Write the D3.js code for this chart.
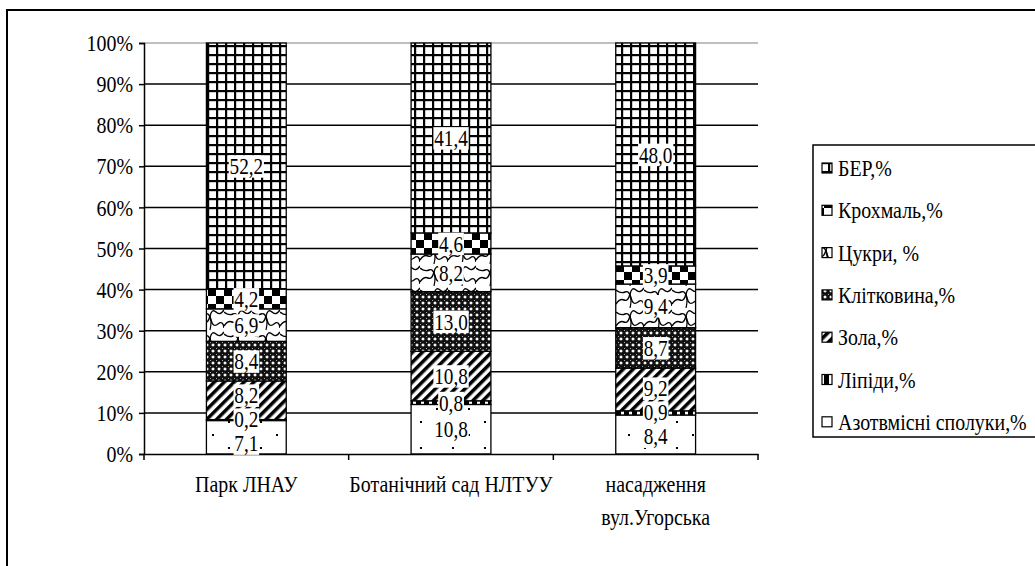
<!DOCTYPE html>
<html><head><meta charset="utf-8">
<script src="https://cdn.jsdelivr.net/npm/d3@7"></script>
<style>
html,body{margin:0;padding:0;background:#fff;}
svg text{font-family:'Liberation Serif','Tinos','Times New Roman','DejaVu Serif',serif !important;fill:#000;}
</style></head>
<body><svg id="chart" width="1035" height="566"></svg>
<script>
// ---- data ----
const categories = ["Парк ЛНАУ", "Ботанічний сад НЛТУУ", "насадження вул.Угорська"];
const categoryLabelLines = [["Парк ЛНАУ"], ["Ботанічний сад НЛТУУ"], ["насадження", "вул.Угорська"]];
const seriesNames = ["Азотвмісні сполуки,%", "Ліпіди,%", "Зола,%", "Клітковина,%", "Цукри, %", "Крохмаль,%", "БЕР,%"];
const azot = [7.1, 10.8, 8.4];
const lipidy = [0.2, 0.8, 0.9];
const zola = [8.2, 10.8, 9.2];
const klitkovyna = [8.4, 13.0, 8.7];
const tsukry = [6.9, 8.2, 9.4];
const krokhmal = [4.2, 4.6, 3.9];
const ber = [52.2, 41.4, 48.0];
const yTicks = [0, 0.1, 0.2, 0.3, 0.4, 0.5, 0.6, 0.7, 0.8, 0.9, 1.0];

const seriesValues = [azot, lipidy, zola, klitkovyna, tsukry, krokhmal, ber];
const patternIds = ["p-azot", "p-lip", "p-zola", "p-klit", "p-cuk", "p-kroh", "p-ber"];

const rows = categories.map((c, i) => {
  const r = {cat: c};
  seriesNames.forEach((s, j) => r[s] = seriesValues[j][i]);
  return r;
});

const svg = d3.select("#chart");
const SX = 0.83, FS = 24, LFS = 24, LSX = 0.8;

// ---- patterns ----
const defs = svg.append("defs");
function pat(id, w, h, transform) {
  const p = defs.append("pattern").attr("id", id).attr("patternUnits", "userSpaceOnUse")
    .attr("width", w).attr("height", h);
  if (transform) p.attr("patternTransform", transform);
  p.append("rect").attr("width", w).attr("height", h).attr("fill", "#fff");
  return p;
}
{ // azot: sparse dots
  const p = pat("p-azot", 32, 26);
  [[4, 5], [20, 18]].forEach(([x, y]) => p.append("rect").attr("x", x).attr("y", y).attr("width", 2).attr("height", 2).attr("fill", "#000"));
}
{ // lipidy: vertical stripes
  const p = pat("p-lip", 8, 8);
  p.append("rect").attr("width", 5).attr("height", 8).attr("fill", "#000");
}
{ // zola: wide diagonal stripes
  const p = pat("p-zola", 7, 7, "rotate(45)");
  p.append("rect").attr("width", 3.5).attr("height", 7).attr("fill", "#000");
}
{ // klitkovyna: dark with white diamonds
  const p = pat("p-klit", 6, 6);
  p.append("rect").attr("width", 6).attr("height", 6).attr("fill", "#111");
  p.append("polygon").attr("points", "3,1.2 4.8,3 3,4.8 1.2,3").attr("fill", "#fff");
  p.append("rect").attr("x", 0).attr("y", 0).attr("width", 0.8).attr("height", 0.8).attr("fill", "#fff");
}
{ // tsukry: wavy web
  const p = pat("p-cuk", 28, 22);
  p.append("path").attr("d", "M0,18 Q4,12 8,14 T14,8 T20,4 T28,2").attr("fill", "none").attr("stroke", "#000").attr("stroke-width", 1.4);
  p.append("path").attr("d", "M0,4 Q5,8 9,6 T15,12 T22,16 T28,20").attr("fill", "none").attr("stroke", "#000").attr("stroke-width", 1.4);
  p.append("path").attr("d", "M14,8 Q16,14 14,22").attr("fill", "none").attr("stroke", "#000").attr("stroke-width", 1.2);
}
{ // krokhmal: large checker
  const p = pat("p-kroh", 16, 16);
  p.append("rect").attr("x", 0).attr("y", 0).attr("width", 8).attr("height", 8).attr("fill", "#000");
  p.append("rect").attr("x", 8).attr("y", 8).attr("width", 8).attr("height", 8).attr("fill", "#000");
}
{ // ber: small grid
  const p = pat("p-ber", 9, 9);
  p.append("rect").attr("width", 9).attr("height", 2.2).attr("fill", "#000");
  p.append("rect").attr("width", 2.2).attr("height", 9).attr("fill", "#000");
}

// ---- outer frame ----
svg.append("rect").attr("x", 7).attr("y", 10).attr("width", 1045).attr("height", 570)
  .attr("fill", "none").attr("stroke", "#000").attr("stroke-width", 2);

// ---- scales ----
const plotL = 144, plotR = 758, plotT = 43, plotB = 454;
const x = d3.scaleBand().domain(categories).range([plotL, plotR]).padding(0);
const barW = x.bandwidth() * 0.39;
const y = d3.scaleLinear().domain([0, 1]).range([plotB, plotT]);

// gridlines
svg.append("g").selectAll("line").data(yTicks.slice(1)).join("line")
  .attr("x1", plotL).attr("x2", plotR)
  .attr("y1", d => y(d)).attr("y2", d => y(d))
  .attr("stroke", d => d === 1 ? "#aaa" : "#000").attr("stroke-width", 1.5);

// stacked bars
const stack = d3.stack().keys(seriesNames).offset(d3.stackOffsetExpand);
const stacked = stack(rows);
const barG = svg.append("g");
stacked.forEach((layer, j) => {
  barG.selectAll(null).data(layer).join("rect")
    .attr("x", d => x(d.data.cat) + (x.bandwidth() - barW) / 2)
    .attr("width", barW)
    .attr("y", d => y(d[1]))
    .attr("height", d => y(d[0]) - y(d[1]))
    .attr("fill", `url(#${patternIds[j]})`)
    .attr("stroke", "#000").attr("stroke-width", 1.3);
});

// axes
const yAxis = d3.axisLeft(y).tickValues(yTicks).tickFormat(d3.format(".0%")).tickSize(5).tickPadding(6);
const yg = svg.append("g").attr("transform", `translate(${plotL},0)`).call(yAxis);
yg.attr("font-family", null);
yg.select(".domain").attr("stroke-width", 1.5);
yg.selectAll(".tick line").attr("stroke-width", 1.5);
yg.selectAll("text").attr("font-size", FS)
  .attr("transform", `scale(${SX},1)`).attr("x", -11 / SX);

const xAxis = d3.axisBottom(x).tickSize(0).tickFormat("");
const xg = svg.append("g").attr("transform", `translate(0,${plotB})`).call(xAxis);
xg.select(".domain").attr("stroke-width", 1.5);
// boundary ticks
xg.selectAll(".bt").data(d3.range(categories.length + 1)).join("line")
  .attr("x1", i => plotL + i * x.step()).attr("x2", i => plotL + i * x.step())
  .attr("y1", 0).attr("y2", 6).attr("stroke", "#000").attr("stroke-width", 1.5);
// category labels
categories.forEach((c, i) => {
  const g = svg.append("g").attr("transform", `translate(${x(c) + x.bandwidth() / 2},${plotB + 38})`);
  const t = g.append("text").attr("transform", `scale(${SX},1)`).attr("text-anchor", "middle").attr("font-size", FS);
  categoryLabelLines[i].forEach((ln, k) => t.append("tspan").attr("x", 0).attr("dy", k === 0 ? 0 : 33).text(ln));
});

// data labels
const fmt = v => d3.format(".1f")(v).replace(".", ",");
categories.forEach((c, i) => {
  const cx = x(c) + x.bandwidth() / 2;
  const items = stacked.map((layer, j) => ({v: seriesValues[j][i], y: y((layer[i][0] + layer[i][1]) / 2)}));
  const minGap = 24;
  for (let it = 0; it < 200; it++) {
    for (let k = 1; k < items.length; k++) {
      const gap = items[k - 1].y - items[k].y;
      if (gap < minGap) {
        const d = (minGap - gap) / 2;
        items[k - 1].y += d; items[k].y -= d;
      }
    }
  }
  items.forEach(it => {
    const g = svg.append("g").attr("transform", `translate(${cx},${it.y})`).append("g").attr("transform", `scale(${LSX},1)`);
    const rect = g.append("rect").attr("fill", "#fff");
    const t = g.append("text").attr("text-anchor", "middle").attr("dy", "0.34em").attr("font-size", LFS).text(fmt(it.v));
    const bb = t.node().getBBox();
    rect.attr("x", bb.x - 1).attr("y", bb.y + 2).attr("width", bb.width + 2).attr("height", bb.height - 4);
  });
});

// legend
const legX = 813, legT = 145, legB = 437;
svg.append("rect").attr("x", legX).attr("y", legT).attr("width", 260).attr("height", legB - legT)
  .attr("fill", "#fff").attr("stroke", "#000").attr("stroke-width", 1.5);
const legOrder = d3.range(seriesNames.length).reverse();
const legStep = 42.3, legY0 = 168;
legOrder.forEach((j, k) => {
  const cy = legY0 + k * legStep;
  svg.append("rect").attr("x", 822).attr("y", cy - 5).attr("width", 10).attr("height", 10)
    .attr("fill", `url(#${patternIds[j]})`).attr("stroke", "#000").attr("stroke-width", 1.2);
  svg.append("g").attr("transform", `translate(838,${cy})`).append("text")
    .attr("transform", `scale(${SX},1)`).attr("dy", "0.34em").attr("font-size", FS).text(seriesNames[j]);
});
</script></body></html>
